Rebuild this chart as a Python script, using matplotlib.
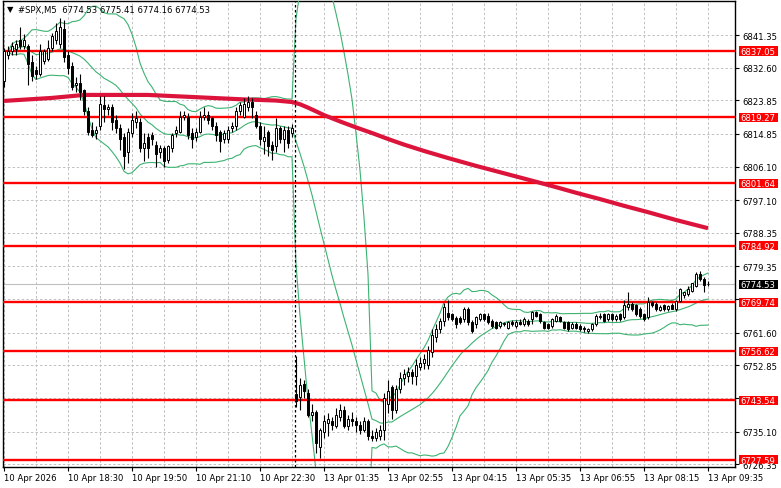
import numpy as np
import pandas as pd
import matplotlib
matplotlib.use("Agg")
import matplotlib.pyplot as plt
from matplotlib.patches import Rectangle
from matplotlib.ticker import MultipleLocator

# ---- data (#SPX, M5) ----
# bar 0 = 10 Apr 17:10, one bar per 5 minutes; bar 73 = 13 Apr 01:00 (after the weekend)
opens = [
    6829.0, 6836.0, 6837.0, 6837.5, 6840.0, 6838.5, 6838.5, 6834.0, 6832.0, 6831.0,
    6834.5, 6835.0, 6838.0, 6840.0, 6839.0, 6843.0, 6836.0, 6833.0, 6828.0, 6828.5,
    6826.5, 6821.0, 6816.0, 6815.0, 6817.0, 6822.5, 6821.5, 6822.0, 6818.5, 6816.5,
    6814.0, 6810.0, 6815.0, 6818.0, 6818.0, 6811.0, 6814.0, 6814.5, 6812.0, 6810.0,
    6811.0, 6808.0, 6811.0, 6815.0, 6815.5, 6819.5, 6819.5, 6815.0, 6814.0, 6815.5,
    6819.5, 6820.0, 6819.0, 6817.0, 6815.5, 6813.5, 6813.5, 6816.5, 6817.0, 6821.0,
    6819.5, 6822.0, 6823.5, 6820.0, 6817.0, 6813.0, 6815.5, 6812.0, 6811.5, 6816.5,
    6813.5, 6816.0, 6815.0,
    6745.2, 6744.5, 6748.0, 6745.5, 6739.5, 6740.5, 6731.0,
    6735.0, 6737.5, 6738.0, 6736.5, 6739.0, 6741.0, 6736.5, 6738.5, 6738.0, 6737.0,
    6735.5, 6738.0, 6734.0, 6733.5, 6734.0, 6735.5, 6742.5, 6747.0, 6741.0, 6746.5,
    6749.5, 6750.0, 6751.0, 6750.0, 6752.5, 6753.5, 6753.0, 6756.5, 6760.5, 6762.5,
    6764.8, 6767.0, 6766.5, 6765.5, 6765.5, 6765.3, 6768.0, 6764.4, 6763.9, 6765.3,
    6766.6, 6766.2, 6764.8, 6764.4, 6763.5, 6764.0, 6763.0, 6764.4, 6763.5, 6764.6,
    6763.9, 6764.8, 6765.3, 6767.1, 6766.6, 6764.4, 6763.9, 6763.5, 6764.8, 6765.7,
    6764.4, 6764.4, 6763.0, 6763.9, 6763.5, 6763.0, 6762.1, 6762.6, 6763.9, 6765.7,
    6766.6, 6765.3, 6766.6, 6765.3, 6766.6, 6765.7, 6768.4, 6769.3, 6768.9, 6768.0,
    6766.6, 6765.7, 6769.8, 6769.3, 6767.8, 6768.9, 6767.9, 6768.9, 6768.0, 6770.2,
    6771.8, 6772.0, 6772.9, 6774.2, 6777.3, 6776.0, 6774.53,
]
highs = [
    6838.0, 6838.5, 6839.5, 6840.0, 6843.5, 6841.5, 6839.0, 6836.0, 6833.0, 6839.0,
    6837.5, 6840.0, 6842.0, 6844.5, 6846.0, 6845.5, 6837.0, 6834.0, 6830.0, 6831.0,
    6827.0, 6822.0, 6818.0, 6817.0, 6825.0, 6825.0, 6823.0, 6823.0, 6820.0, 6817.5,
    6815.0, 6816.5, 6820.5, 6821.0, 6819.0, 6815.0, 6815.0, 6815.5, 6813.0, 6812.0,
    6811.5, 6812.0, 6815.0, 6817.0, 6821.0, 6821.0, 6820.5, 6816.5, 6816.5, 6821.0,
    6822.0, 6821.0, 6819.5, 6818.0, 6816.0, 6816.0, 6817.0, 6818.0, 6822.0, 6823.5,
    6824.5, 6825.0, 6824.5, 6821.0, 6818.0, 6817.0, 6816.0, 6813.0, 6819.0, 6817.0,
    6817.0, 6817.0, 6817.5,
    6755.4, 6749.5, 6749.0, 6746.5, 6742.5, 6741.0, 6736.0,
    6739.5, 6740.0, 6739.0, 6741.5, 6742.5, 6742.0, 6739.5, 6740.5, 6739.0, 6738.0,
    6739.0, 6738.5, 6735.5, 6736.0, 6737.0, 6745.5, 6749.0, 6747.5, 6747.5, 6751.0,
    6752.0, 6752.5, 6752.0, 6754.5, 6755.0, 6756.0, 6758.0, 6762.5, 6764.0, 6765.5,
    6769.5, 6770.5, 6767.0, 6766.0, 6766.0, 6768.5, 6768.5, 6765.0, 6766.0, 6767.0,
    6767.0, 6766.8, 6765.3, 6764.8, 6764.8, 6764.6, 6764.8, 6765.0, 6765.0, 6765.2,
    6765.8, 6765.3, 6767.5, 6767.5, 6767.0, 6764.8, 6764.2, 6765.6, 6766.6, 6766.2,
    6764.8, 6764.8, 6764.4, 6764.4, 6764.0, 6763.3, 6763.0, 6764.2, 6766.6, 6767.0,
    6767.0, 6767.0, 6767.0, 6766.6, 6767.0, 6770.3, 6772.5, 6769.8, 6769.3, 6768.4,
    6767.0, 6771.1, 6770.2, 6769.8, 6768.9, 6769.3, 6769.0, 6769.5, 6770.5, 6773.5,
    6772.5, 6774.0, 6775.0, 6778.0, 6778.2, 6776.5, 6775.41,
]
lows = [
    6827.5, 6835.0, 6836.0, 6836.0, 6837.5, 6837.5, 6828.0, 6829.0, 6829.5, 6830.5,
    6833.5, 6834.5, 6837.0, 6839.0, 6838.0, 6834.0, 6831.0, 6826.5, 6826.0, 6824.0,
    6820.0, 6814.5, 6814.0, 6813.5, 6816.0, 6818.0, 6820.0, 6816.0, 6815.0, 6810.5,
    6805.5, 6807.0, 6814.0, 6816.5, 6810.0, 6807.5, 6808.5, 6812.0, 6806.0, 6808.5,
    6806.0, 6807.0, 6810.0, 6814.0, 6815.0, 6818.5, 6813.5, 6811.0, 6813.0, 6815.0,
    6818.5, 6817.5, 6816.0, 6813.0, 6810.0, 6812.5, 6812.5, 6815.5, 6816.0, 6820.0,
    6819.0, 6821.0, 6819.0, 6816.5, 6812.0, 6809.5, 6809.0, 6808.0, 6810.0, 6812.5,
    6810.0, 6811.0, 6814.0,
    6741.7, 6741.0, 6744.0, 6739.0, 6738.0, 6729.5, 6728.0,
    6733.5, 6734.0, 6735.5, 6736.0, 6738.0, 6736.0, 6735.5, 6736.5, 6735.0, 6734.5,
    6735.0, 6733.0, 6732.5, 6732.5, 6733.0, 6733.0, 6740.0, 6738.5, 6740.0, 6745.5,
    6747.5, 6748.5, 6748.0, 6747.5, 6751.5, 6752.0, 6752.0, 6755.0, 6759.0, 6761.5,
    6763.5, 6765.0, 6764.8, 6763.0, 6764.0, 6764.5, 6763.8, 6761.5, 6763.0, 6764.8,
    6764.8, 6764.0, 6763.0, 6762.5, 6763.0, 6763.4, 6762.6, 6763.5, 6763.0, 6763.8,
    6763.4, 6763.5, 6764.0, 6765.8, 6764.3, 6762.5, 6762.6, 6763.0, 6764.4, 6764.4,
    6762.5, 6762.0, 6762.5, 6762.6, 6762.1, 6761.8, 6761.5, 6762.0, 6763.5, 6765.3,
    6764.4, 6764.8, 6764.8, 6764.8, 6764.8, 6765.3, 6767.8, 6767.5, 6766.2, 6765.5,
    6764.8, 6765.3, 6768.4, 6767.5, 6767.5, 6767.5, 6767.5, 6768.0, 6767.5, 6769.8,
    6771.0, 6771.5, 6772.5, 6773.8, 6775.5, 6772.5, 6774.16,
]
closes = [
    6837.0, 6837.0, 6838.5, 6839.0, 6838.5, 6840.0, 6833.5, 6830.5, 6831.0, 6837.0,
    6837.0, 6838.0, 6841.0, 6842.5, 6843.5, 6835.5, 6832.5, 6827.5, 6828.5, 6826.0,
    6821.0, 6815.5, 6814.5, 6816.0, 6823.0, 6821.5, 6822.0, 6818.0, 6816.5, 6813.5,
    6809.0, 6815.5, 6818.5, 6819.0, 6811.0, 6812.5, 6811.0, 6813.5, 6809.5, 6811.0,
    6807.5, 6811.5, 6814.5, 6816.0, 6819.5, 6820.0, 6814.5, 6813.5, 6815.5, 6819.5,
    6820.0, 6818.5, 6817.0, 6814.5, 6813.0, 6815.0, 6816.0, 6817.0, 6821.0, 6822.5,
    6823.0, 6823.5, 6822.0, 6817.0, 6813.5, 6814.0, 6811.5, 6810.5, 6816.5, 6813.5,
    6816.0, 6812.5, 6816.5,
    6743.3, 6747.5, 6746.0, 6739.5, 6740.5, 6732.0, 6735.5,
    6738.0, 6738.5, 6737.0, 6739.5, 6741.0, 6736.5, 6738.5, 6738.0, 6737.0, 6735.5,
    6738.0, 6734.0, 6733.5, 6735.0, 6735.5, 6744.0, 6746.0, 6741.0, 6746.5, 6749.5,
    6750.5, 6751.0, 6750.0, 6753.0, 6753.5, 6754.5, 6757.0, 6761.0, 6762.5, 6764.8,
    6768.5, 6765.8, 6765.3, 6764.0, 6764.4, 6768.0, 6764.4, 6762.1, 6765.7, 6766.6,
    6765.3, 6764.4, 6763.5, 6763.0, 6764.4, 6764.2, 6764.4, 6763.9, 6764.6, 6764.0,
    6765.3, 6763.9, 6767.1, 6766.2, 6764.8, 6763.0, 6763.0, 6765.3, 6766.2, 6764.8,
    6763.0, 6762.6, 6763.9, 6763.0, 6762.6, 6762.6, 6762.6, 6763.9, 6766.2, 6766.2,
    6764.8, 6766.6, 6765.3, 6766.2, 6765.3, 6768.9, 6769.3, 6767.9, 6766.6, 6766.2,
    6765.3, 6769.8, 6768.9, 6768.0, 6768.6, 6768.0, 6768.8, 6768.0, 6770.2, 6773.3,
    6772.4, 6773.3, 6774.9, 6777.3, 6776.0, 6774.5, 6774.53,
]

# slow moving average (thick crimson line), sampled at these bars
ma_bars = [0, 12, 20, 36, 50, 60, 68, 72, 74, 76, 78, 80, 84, 88, 92, 96, 100, 105,
           111, 118, 124, 130, 137, 143, 149, 155, 161, 168, 176]
ma_vals = [6823.7, 6824.5, 6825.3, 6825.3, 6824.6, 6824.1, 6823.8, 6823.4, 6822.8,
           6821.9, 6820.9, 6819.9, 6818.2, 6816.6, 6815.1, 6813.5, 6812.0, 6810.3,
           6808.4, 6806.3, 6804.6, 6802.9, 6800.9, 6799.1, 6797.4, 6795.6, 6793.9,
           6791.8, 6789.6]

levels = [6837.05, 6819.27, 6801.64, 6784.92, 6769.74, 6756.62, 6743.54, 6727.59]
last_price = 6774.53

ytick_vals = [6841.35, 6832.60, 6823.85, 6814.85, 6806.10, 6797.10, 6788.35, 6779.35,
              6770.60, 6761.60, 6752.85, 6744.10, 6735.10, 6726.35]
ytick_hidden = [6770.60, 6744.10]   # covered by level boxes in the original
xtick_bars = [0, 16, 32, 48, 64, 80, 96, 112, 128, 144, 160, 176]
xtick_labels = ["10 Apr 2026", "10 Apr 18:30", "10 Apr 19:50", "10 Apr 21:10",
                "10 Apr 22:30", "13 Apr 01:35", "13 Apr 02:55", "13 Apr 04:15",
                "13 Apr 05:35", "13 Apr 06:55", "13 Apr 08:15", "13 Apr 09:35"]
separator_bar = 72.75
header = "#SPX,M5  6774.53 6775.41 6774.16 6774.53"

plt.rcParams["font.family"] = ["DejaVu Sans"]

# ---- figure ----
W, H = 781, 489
AXW = 732
fig = plt.figure(figsize=(W / 100, H / 100), dpi=100)
fig.patch.set_facecolor("white")
ax = fig.add_axes([3 / W, (H - 468) / H, AXW / W, 466 / H])
ax.set_xlim(-0.25, 182.75)
ax.set_ylim(6725.64, 6850.46)

FS = 6.1
grid_kw = dict(color="#c0c0c0", lw=0.7, ls=(0, (2.5, 2.2)))

# grid and ticks
ax.set_yticks(ytick_vals)
ax.set_yticklabels(["" if v in ytick_hidden else f"{v:.2f}" for v in ytick_vals])
ax.set_xticks(xtick_bars)
ax.set_xticklabels(xtick_labels)
ax.xaxis.set_minor_locator(MultipleLocator(8))
ax.grid(axis="y", which="major", **grid_kw)
ax.grid(axis="x", which="both", **grid_kw)
ax.set_axisbelow(True)

ax.yaxis.tick_right()
ax.tick_params(axis="y", length=3, width=0.8, pad=2, labelsize=FS, colors="black")
ax.tick_params(axis="x", which="major", length=3, width=0.8, pad=1, labelsize=FS)
ax.tick_params(axis="x", which="minor", length=0)
for lab in ax.get_xticklabels():
    lab.set_ha("left")
for s in ax.spines.values():
    s.set_color("black")
    s.set_linewidth(1.0)

# Bollinger bands (20, 2) from the closes
cs = pd.Series(closes)
mid = cs.rolling(20, min_periods=1).mean()
sd = cs.rolling(20, min_periods=1).std(ddof=0)
bars = np.arange(len(closes))
green = "#3cb371"
for band in (mid + 2 * sd, mid, mid - 2 * sd):
    ax.plot(bars, band, color=green, lw=0.8, zorder=3)

# horizontal levels
for lv in levels:
    ax.axhline(lv, color="#ff0000", lw=1.7, zorder=4)
ax.axhline(last_price, color="#c0c0c0", lw=0.8, zorder=2)

# slow MA
ax.plot(ma_bars, ma_vals, color="#dc143c", lw=3.0, solid_capstyle="butt",
        solid_joinstyle="round", zorder=4)

# candles
o = np.array(opens)
c = np.array(closes)
up = c >= o
ax.vlines(bars, lows, highs, color="black", lw=0.8, zorder=5)
body_lo = np.minimum(o, c)
body_h = np.maximum(np.abs(c - o), 0.15)
ax.bar(bars[up], body_h[up], bottom=body_lo[up], width=0.65, color="white",
       edgecolor="black", linewidth=0.7, zorder=6)
ax.bar(bars[~up], body_h[~up], bottom=body_lo[~up], width=0.65, color="black",
       edgecolor="black", linewidth=0.7, zorder=6)

# period separator
ax.axvline(separator_bar, color="black", lw=0.9, ls=(0, (2, 2)), zorder=5)

# price boxes on the right axis
ytr = ax.get_yaxis_transform()
box_h = 2.5


def price_box(val, fc):
    ax.add_patch(Rectangle((1 + 3.5 / AXW, val - box_h / 2), 39.5 / AXW, box_h,
                           transform=ytr, fc=fc, ec="none", clip_on=False, zorder=9))
    ax.text(1 + 5 / AXW, val - 0.1, f"{val:.2f}", transform=ytr, ha="left",
            va="center", fontsize=FS, color="white", clip_on=False, zorder=10)


for lv in levels:
    price_box(lv, "#ff0000")
price_box(last_price, "black")

# header
fig.text(7 / W, 1 - 10 / H, "\u25bc", fontsize=6, va="center", ha="left")
fig.text(18 / W, 1 - 10 / H, header, fontsize=FS, va="center", ha="left")

fig.savefig("out.png", dpi=100)
